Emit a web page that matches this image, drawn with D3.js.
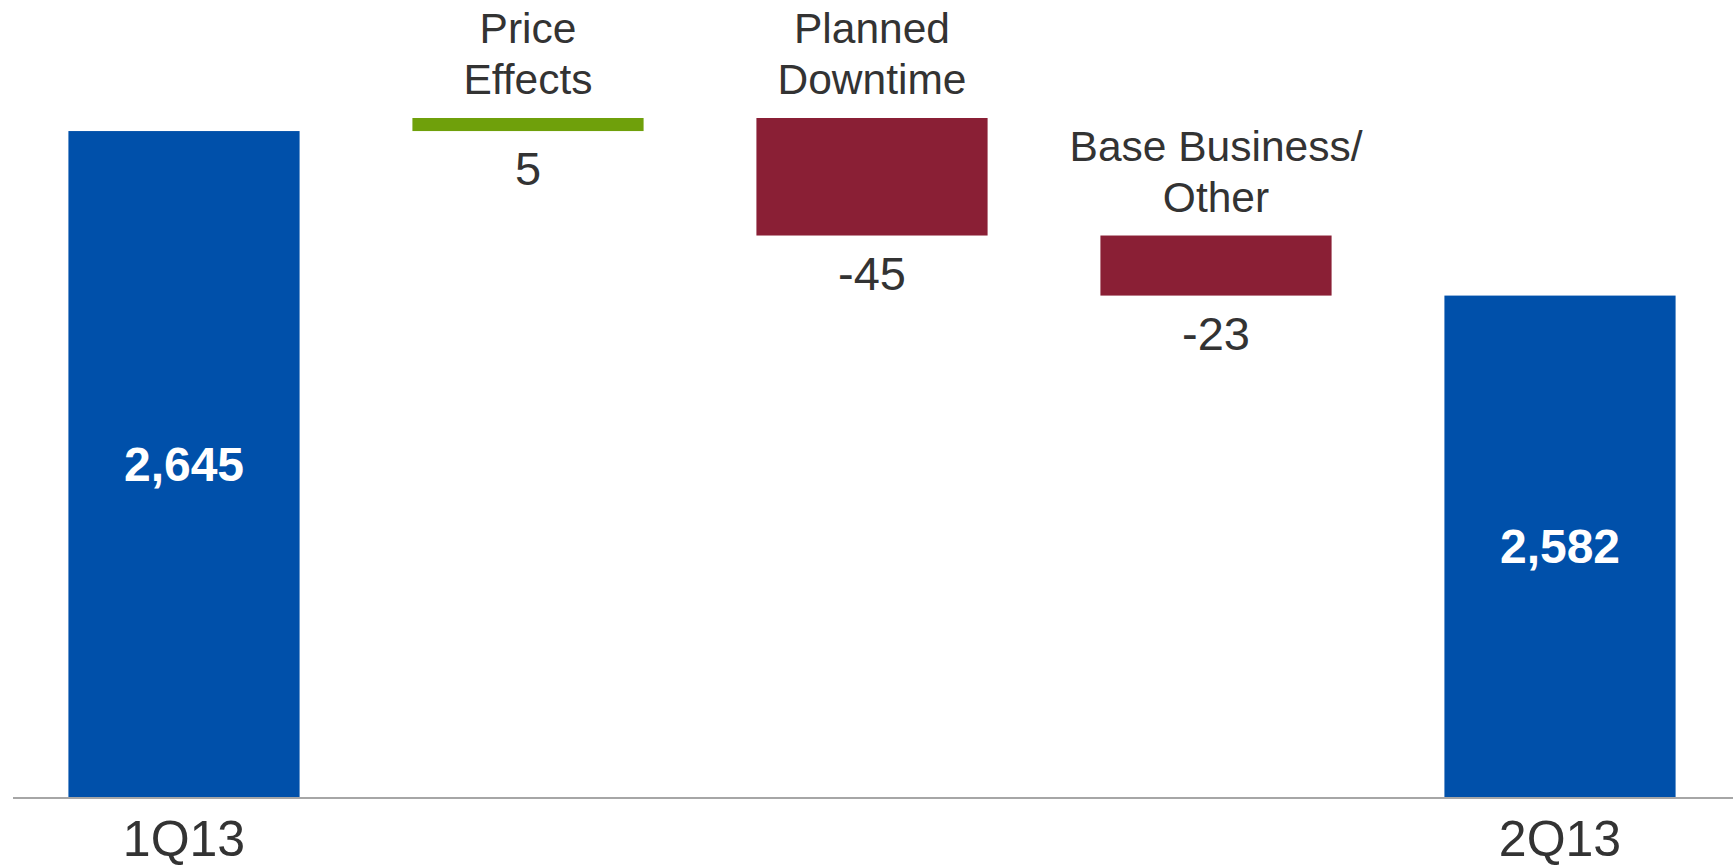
<!DOCTYPE html>
<html>
<head>
<meta charset="utf-8">
<script src="https://cdn.jsdelivr.net/npm/d3@7"></script>
<style>
  html, body { margin: 0; padding: 0; background: #ffffff; }
  svg { display: block; }
  text { font-family: "Liberation Sans", Arial, Helvetica, sans-serif; }
</style>
</head>
<body>
<svg id="chart" width="1733" height="868"></svg>
<script>
// Waterfall: 1Q13 total, three changes, 2Q13 total
const categories = ["1Q13", "Price Effects", "Planned Downtime", "Base Business/ Other", "2Q13"];
const headerLines = [null, ["Price", "Effects"], ["Planned", "Downtime"], ["Base Business/", "Other"], null];
const startValue = 2645;
const changes = [5, -45, -23];
const endValue = 2582;
const valueLabels = ["2,645", "5", "-45", "-23", "2,582"];
const axisDomain = [2390, 2650];

const W = 1733, H = 868;
const baseY = 797;
const colors = { total: "#0050AA", up: "#6FA00B", down: "#8A1F35", text: "#333333", axis: "#A6A6A6" };

// Build waterfall segments
const bars = [];
bars.push({ cat: categories[0], y0: axisDomain[0], y1: startValue, kind: "total", label: valueLabels[0], header: headerLines[0] });
let running = startValue;
changes.forEach((d, i) => {
  const from = running, to = running + d;
  bars.push({ cat: categories[i + 1], y0: Math.min(from, to), y1: Math.max(from, to), kind: d >= 0 ? "up" : "down", label: valueLabels[i + 1], header: headerLines[i + 1] });
  running = to;
});
bars.push({ cat: categories[4], y0: axisDomain[0], y1: endValue, kind: "total", label: valueLabels[4], header: headerLines[4] });

const svg = d3.select("#chart");

const x = d3.scaleBand()
  .domain(categories)
  .range([12, 1732])
  .paddingInner(0.328)
  .paddingOuter(0.164);

const y = d3.scaleLinear()
  .domain(axisDomain)
  .range([baseY, 118]);

// Bars
svg.append("g").selectAll("rect")
  .data(bars)
  .join("rect")
  .attr("x", d => x(d.cat))
  .attr("width", x.bandwidth())
  .attr("y", d => y(d.y1))
  .attr("height", d => y(d.y0) - y(d.y1))
  .attr("fill", d => colors[d.kind]);

// Baseline axis
svg.append("line")
  .attr("x1", 13).attr("x2", W)
  .attr("y1", baseY + 1).attr("y2", baseY + 1)
  .attr("stroke", colors.axis)
  .attr("stroke-width", 2);

// Category labels under the totals
svg.append("g").selectAll("text")
  .data(bars.filter(d => d.kind === "total"))
  .join("text")
  .attr("x", d => x(d.cat) + x.bandwidth() / 2)
  .attr("y", 856)
  .attr("text-anchor", "middle")
  .attr("font-size", 50)
  .attr("fill", colors.text)
  .text(d => d.cat);

// Totals: bold white value centred in the bar
svg.append("g").selectAll("text")
  .data(bars.filter(d => d.kind === "total"))
  .join("text")
  .attr("x", d => x(d.cat) + x.bandwidth() / 2)
  .attr("y", d => (y(d.y0) + y(d.y1)) / 2 + 17)
  .attr("text-anchor", "middle")
  .attr("font-size", 48)
  .attr("font-weight", "bold")
  .attr("fill", "#ffffff")
  .text(d => d.label);

// Changes: header above, value below
const deltas = bars.filter(d => d.kind !== "total");

const headers = svg.append("g").selectAll("text")
  .data(deltas)
  .join("text")
  .attr("text-anchor", "middle")
  .attr("font-size", 42.5)
  .attr("fill", colors.text);

headers.each(function(d) {
  const cx = x(d.cat) + x.bandwidth() / 2;
  const lastBase = y(d.y1) - 24;
  const n = d.header.length;
  d3.select(this).selectAll("tspan")
    .data(d.header)
    .join("tspan")
    .attr("x", cx)
    .attr("y", (t, i) => lastBase - (n - 1 - i) * 51)
    .text(t => t);
});

svg.append("g").selectAll("text")
  .data(deltas)
  .join("text")
  .attr("x", d => x(d.cat) + x.bandwidth() / 2)
  .attr("y", d => y(d.y0) + 54)
  .attr("text-anchor", "middle")
  .attr("font-size", 47)
  .attr("fill", colors.text)
  .text(d => d.label);
</script>
</body>
</html>
